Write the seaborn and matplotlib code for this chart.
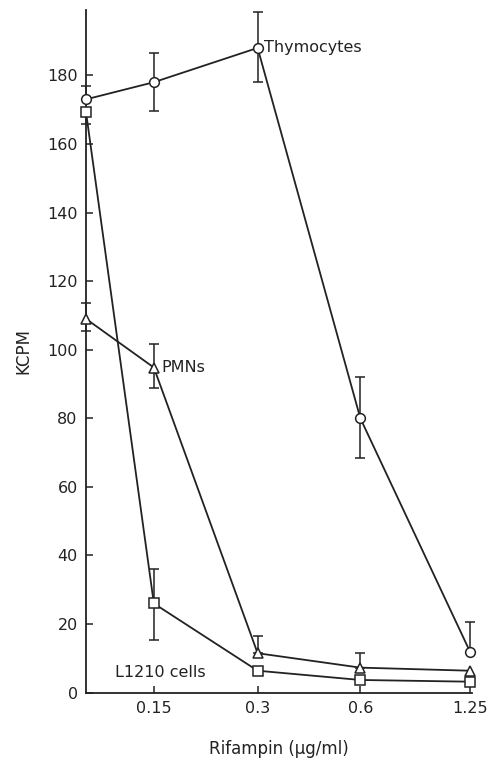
import numpy as np
import pandas as pd
import matplotlib
matplotlib.use("Agg")
import matplotlib.pyplot as plt
import seaborn as sns

# ---- data ----
dose_labels = ["0", "0.15", "0.3", "0.6", "1.25"]
thymo = [173, 178, 188, 80, 12]
thymo_up = [4, 8.5, 10.5, 12, 8.6]
thymo_lo = [0, 8.5, 10, 11.6, 0]
pmn = [109, 94.8, 11.5, 7.3, 6.4]
pmn_up = [4.6, 7, 5, 4.3, 0]
pmn_lo = [3.5, 6, 0, 0, 0]
l1210 = [169.3, 26, 6.4, 3.7, 3.2]
l1210_up = [0, 10.2, 0, 0, 0]
l1210_lo = [3.6, 10.5, 0, 0, 0]
series_names = ["Thymocytes", "PMNs", "L1210 cells"]

# layout positions of the (unevenly spaced first) categories
xpos = [0, 0.654, 1.654, 2.644, 3.70]

sns.set_theme(style="ticks")
plt.rcParams["font.family"] = ["DejaVu Sans"]

fig = plt.figure(figsize=(5, 7.6), dpi=100)
ax = fig.add_axes([0.172, 0.0886, 0.772, 0.898])

df = pd.DataFrame({
    "x": xpos * 3,
    "y": thymo + pmn + l1210,
    "series": sum([[n] * 5 for n in series_names], []),
})
markers = {"Thymocytes": "o", "PMNs": "^", "L1210 cells": "s"}
sns.lineplot(data=df, x="x", y="y", hue="series", style="series",
             markers=markers, dashes=False, palette=["#222222"] * 3,
             markersize=7, markerfacecolor="white", markeredgecolor="#222222",
             markeredgewidth=1.1, linewidth=1.3, legend=False, ax=ax,
             sort=False, zorder=3)

for vals, up, lo in [(thymo, thymo_up, thymo_lo), (pmn, pmn_up, pmn_lo),
                     (l1210, l1210_up, l1210_lo)]:
    for xi, v, u, l in zip(xpos, vals, up, lo):
        if u > 0 or l > 0:
            ax.errorbar([xi], [v], yerr=[[l], [u]], fmt="none",
                        ecolor="#222222", elinewidth=1.1, capsize=3.5,
                        capthick=1.1, zorder=2)

for art in ax.lines + list(ax.collections):
    art.set_clip_on(False)

ax.set_xlim(0, 3.72)
ax.set_ylim(0, 199)
ax.set_xticks(xpos[1:])
ax.set_xticklabels(dose_labels[1:])
ax.set_yticks(np.arange(0, 181, 20))
ax.tick_params(direction="in", length=5, width=1.1, labelsize=11.5,
               colors="#222222", pad=6)
for s in ["top", "right"]:
    ax.spines[s].set_visible(False)
for s in ["left", "bottom"]:
    ax.spines[s].set_linewidth(1.3)
    ax.spines[s].set_color("#222222")

ax.set_xlabel("Rifampin (\u03bcg/ml)", fontsize=12, color="#222222", labelpad=17)
ax.set_ylabel("KCPM", fontsize=12, color="#222222")
ax.yaxis.set_label_coords(-0.14, 0.50)

ax.text(xpos[2] + 0.06, thymo[2], "Thymocytes", fontsize=11.5,
        color="#222222", va="center", ha="left")
ax.text(xpos[1] + 0.07, pmn[1], "PMNs", fontsize=11.5,
        color="#222222", va="center", ha="left")
ax.text(0.28, 6, "L1210 cells", fontsize=11.5, color="#222222",
        va="center", ha="left")

fig.savefig("out.png", dpi=100)
